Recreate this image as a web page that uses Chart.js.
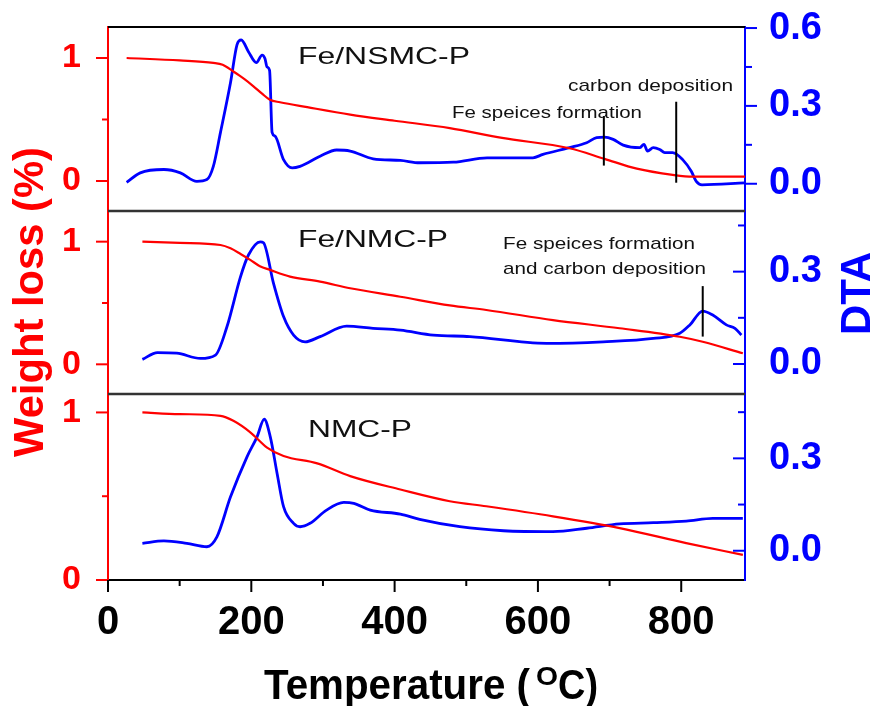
<!DOCTYPE html>
<html>
<head>
<meta charset="utf-8">
<title>TGA / DTA</title>
<script src="https://cdn.jsdelivr.net/npm/chart.js@4.4.1/dist/chart.umd.min.js"></script>
<style>
  html, body { margin: 0; padding: 0; background: #fff; }
  #wrap { width: 873px; height: 706px; }
</style>
</head>
<body>
<div id="wrap"><canvas id="tga" width="873" height="706"></canvas></div>
<script>
// weight loss + DTA curves
const tg1Temp = [26, 100, 147, 160, 175, 190, 203, 215, 226, 240, 278, 338, 400, 477, 550, 644, 693, 738, 788, 816, 850, 889];
const tg1Val  = [1.0, 0.98, 0.96, 0.945, 0.89, 0.83, 0.77, 0.71, 0.66, 0.64, 0.60, 0.54, 0.49, 0.43, 0.35, 0.266, 0.18, 0.10, 0.05, 0.035, 0.035, 0.035];
const dta1Temp = [26, 45, 78, 101, 124, 138, 147, 157, 171, 180, 186, 196, 207, 215, 219, 222, 225.5, 229, 233, 245, 257, 268, 296, 319, 338, 370, 408, 435, 482, 529, 593, 607, 644, 668, 682, 693, 705, 719, 742, 748, 753, 761, 770, 777, 788, 802, 814, 821, 829, 889];
const dta1Val  = [0.005, 0.042, 0.055, 0.042, 0.009, 0.016, 0.067, 0.198, 0.39, 0.535, 0.554, 0.509, 0.467, 0.496, 0.483, 0.45, 0.437, 0.198, 0.184, 0.093, 0.061, 0.067, 0.106, 0.13, 0.126, 0.096, 0.09, 0.081, 0.083, 0.10, 0.10, 0.113, 0.139, 0.158, 0.178, 0.18, 0.171, 0.149, 0.139, 0.152, 0.126, 0.139, 0.132, 0.12, 0.12, 0.093, 0.048, 0.009, -0.004, 0.003];

const tg2Temp = [48, 100, 157, 171, 185, 199, 212, 226, 254, 296, 338, 408, 477, 528, 621, 714, 798, 830, 886];
const tg2Val  = [1.0, 0.99, 0.973, 0.946, 0.9, 0.85, 0.8, 0.77, 0.715, 0.674, 0.62, 0.551, 0.48, 0.443, 0.361, 0.294, 0.225, 0.184, 0.09];
const dta2Temp = [48, 69, 96, 129, 150, 166, 185, 196, 212.5, 217, 231, 245, 259, 275, 296, 333, 370, 408, 454, 505, 612, 691, 761, 798, 812, 830, 844, 863, 875, 884];
const dta2Val  = [0.015, 0.037, 0.035, 0.018, 0.029, 0.121, 0.284, 0.354, 0.397, 0.394, 0.262, 0.154, 0.094, 0.072, 0.089, 0.123, 0.116, 0.11, 0.094, 0.089, 0.067, 0.072, 0.083, 0.1, 0.127, 0.172, 0.159, 0.127, 0.116, 0.094];

const tg3Temp = [48, 100, 157, 175, 199, 222, 245, 292, 338, 408, 477, 528, 621, 714, 807, 886];
const tg3Val  = [1.0, 0.99, 0.98, 0.95, 0.88, 0.79, 0.74, 0.696, 0.62, 0.54, 0.47, 0.44, 0.38, 0.31, 0.22, 0.15];
const dta3Temp = [48, 78, 110, 138, 152, 171, 194, 208, 218, 226.5, 236, 245, 259, 268, 282, 305, 329, 343, 366, 408, 435, 491, 552, 621, 668, 714, 761, 807, 844, 886];
const dta3Val  = [0.024, 0.032, 0.024, 0.013, 0.045, 0.175, 0.305, 0.37, 0.427, 0.37, 0.251, 0.143, 0.089, 0.078, 0.089, 0.132, 0.157, 0.154, 0.132, 0.119, 0.102, 0.078, 0.065, 0.062, 0.073, 0.087, 0.091, 0.096, 0.105, 0.105];

const panelNames = ['Fe/NSMC-P', 'Fe/NMC-P', 'NMC-P'];

const RED = '#ff0000';
const BLUE = '#0000ff';
const FONT = '"Liberation Sans", Arial, sans-serif';

function pts(xs, ys) {
    return xs.map((x, i) => ({ x, y: ys[i] }));
}

function tgSet(xs, ys, axis) {
    return { data: pts(xs, ys), yAxisID: axis, borderColor: RED, borderWidth: 2.2,
             pointRadius: 0, cubicInterpolationMode: 'monotone', fill: false };
}
function dtaSet(xs, ys, axis) {
    return { data: pts(xs, ys), yAxisID: axis, borderColor: BLUE, borderWidth: 2.8,
             pointRadius: 0, cubicInterpolationMode: 'monotone', fill: false };
}

// no extra room for end labels, the frame is fixed
function fixBox(s, w) {
    s.width = w;
    s.paddingTop = 0;
    s.paddingBottom = 0;
}

// left (weight) axis for one panel
function leftAxis(min, max, h, w) {
    return {
        type: 'linear', position: 'left', stack: 'wl', stackWeight: h, weight: w,
        min, max,
        afterFit: s => fixBox(s, 108),
        border: { color: RED, width: 2 },
        grid: { display: false },
        ticks: {
            stepSize: 0.5, includeBounds: false, autoSkip: false, padding: 19,
            color: RED, font: { family: FONT, size: 34, weight: 'bold' },
            callback: v => (v === 0 || v === 1) ? String(v) : ''
        }
    };
}
// right (DTA) axis for one panel
// note: (max - min) must not be a whole number of steps, or chart.js re-spaces the ticks
function rightAxis(min, max, h, w, inward) {
    return {
        type: 'linear', position: 'right', stack: 'dta', stackWeight: h, weight: w,
        min, max, inward,
        afterFit: s => fixBox(s, 128),
        border: { color: BLUE, width: 2 },
        grid: { display: false },
        ticks: {
            stepSize: 0.15, includeBounds: false, autoSkip: false, padding: 16,
            color: BLUE, font: { family: FONT, size: 38, weight: 'bold' },
            callback: v => Math.abs(v / 0.3 - Math.round(v / 0.3)) < 1e-6 ? v.toFixed(1) : ''
        }
    };
}

function putText(ctx, str, x, y, font, color, width, rotate) {
    ctx.save();
    ctx.font = font;
    ctx.fillStyle = color;
    ctx.textBaseline = 'alphabetic';
    ctx.textAlign = 'left';
    const w = ctx.measureText(str).width;
    ctx.translate(x, y);
    if (rotate) ctx.rotate(-Math.PI / 2);
    ctx.scale(width / w, 1);
    ctx.fillText(str, 0, 0);
    ctx.restore();
}

function line(ctx, x1, y1, x2, y2, color, lw) {
    ctx.beginPath();
    ctx.moveTo(x1, y1);
    ctx.lineTo(x2, y2);
    ctx.strokeStyle = color;
    ctx.lineWidth = lw;
    ctx.stroke();
}

// frame, tick marks, labels and annotations
const decor = {
    id: 'decor',
    afterDraw(chart) {
        const { ctx, chartArea: a, scales } = chart;
        ctx.save();

        // top frame and panel separators
        line(ctx, a.left, a.top, a.right, a.top, '#000', 2);
        line(ctx, a.left, scales.w2.top, a.right, scales.w2.top, '#333', 2.5);
        line(ctx, a.left, scales.w3.top, a.right, scales.w3.top, '#333', 2.5);

        // tick marks
        ['w1', 'w2', 'w3'].forEach(id => {
            const s = scales[id];
            s.ticks.forEach(t => {
                const y = s.getPixelForValue(t.value);
                line(ctx, a.left, y, a.left - (t.label ? 12 : 6), y, RED, 2);
            });
        });
        ['d1', 'd2', 'd3'].forEach(id => {
            const s = scales[id];
            const dir = s.options.inward ? -1 : 1;
            s.ticks.forEach(t => {
                const y = s.getPixelForValue(t.value);
                line(ctx, a.right, y, a.right + dir * (t.label ? 12 : 7), y, BLUE, 2);
            });
        });
        scales.x.ticks.forEach(t => {
            const x = scales.x.getPixelForValue(t.value);
            line(ctx, x, a.bottom, x, a.bottom + (t.label ? 12 : 6), '#000', 2);
        });

        // annotation markers
        const mark = (sc, t, y1, y2) => {
            const x = scales.x.getPixelForValue(t);
            line(ctx, x, scales[sc].getPixelForValue(y1), x, scales[sc].getPixelForValue(y2), '#000', 2);
        };
        mark('d1', 692, 0.07, 0.261);
        mark('d1', 793, 0.004, 0.316);
        mark('d2', 830, 0.089, 0.253);

        // panel names
        const pf = '24px ' + FONT;
        putText(ctx, panelNames[0], 298, 64, pf, '#111', 172);
        putText(ctx, panelNames[1], 298, 247, pf, '#111', 150);
        putText(ctx, panelNames[2], 308, 437, pf, '#111', 104);

        const af = '17px ' + FONT;
        putText(ctx, 'carbon deposition', 568, 91, af, '#111', 165);
        putText(ctx, 'Fe speices formation', 452, 118, af, '#111', 190);
        putText(ctx, 'Fe speices formation', 503, 249, af, '#111', 192);
        putText(ctx, 'and carbon deposition', 503, 274, af, '#111', 203);

        // axis titles
        const tf = 'bold 42px ' + FONT;
        putText(ctx, 'Temperature (', 264, 699, tf, '#000', 266);
        putText(ctx, 'O', 536, 685, 'bold 25px ' + FONT, '#000', 22);
        putText(ctx, 'C)', 558, 699, tf, '#000', 40);
        putText(ctx, 'Weight loss (%)', 43, 457, tf, RED, 310, true);
        putText(ctx, 'DTA', 870, 335, tf, BLUE, 83, true);

        ctx.restore();
    }
};

new Chart(document.getElementById('tga'), {
    type: 'line',
    data: {
        datasets: [
            tgSet(tg1Temp, tg1Val, 'w1'),
            dtaSet(dta1Temp, dta1Val, 'd1'),
            tgSet(tg2Temp, tg2Val, 'w2'),
            dtaSet(dta2Temp, dta2Val, 'd2'),
            tgSet(tg3Temp, tg3Val, 'w3'),
            dtaSet(dta3Temp, dta3Val, 'd3')
        ]
    },
    options: {
        responsive: false,
        animation: false,
        devicePixelRatio: 1,
        layout: { padding: { top: 27, left: 0, right: 0, bottom: 0 } },
        plugins: { legend: { display: false }, tooltip: { enabled: false } },
        scales: {
            x: {
                type: 'linear', position: 'bottom', min: 0, max: 889,
                afterFit: s => { s.height = 126; s.paddingLeft = 0; s.paddingRight = 0; },
                border: { color: '#000', width: 2 },
                grid: { display: false },
                ticks: {
                    stepSize: 100, includeBounds: false, autoSkip: false, maxRotation: 0, padding: 11,
                    color: '#000', font: { family: FONT, size: 40, weight: 'bold' },
                    callback: v => v % 200 === 0 ? String(v) : ''
                }
            },
            w1: leftAxis(-0.244, 1.252, 184, 3),
            w2: leftAxis(-0.242, 1.25, 183, 2),
            w3: leftAxis(0, 1.11, 186, 1),
            d1: rightAxis(-0.105, 0.604, 184, 1, false),
            d2: rightAxis(-0.0975, 0.497, 183, 2, true),
            d3: rightAxis(-0.095, 0.509, 186, 3, true)
        }
    },
    plugins: [decor]
});
</script>
</body>
</html>
